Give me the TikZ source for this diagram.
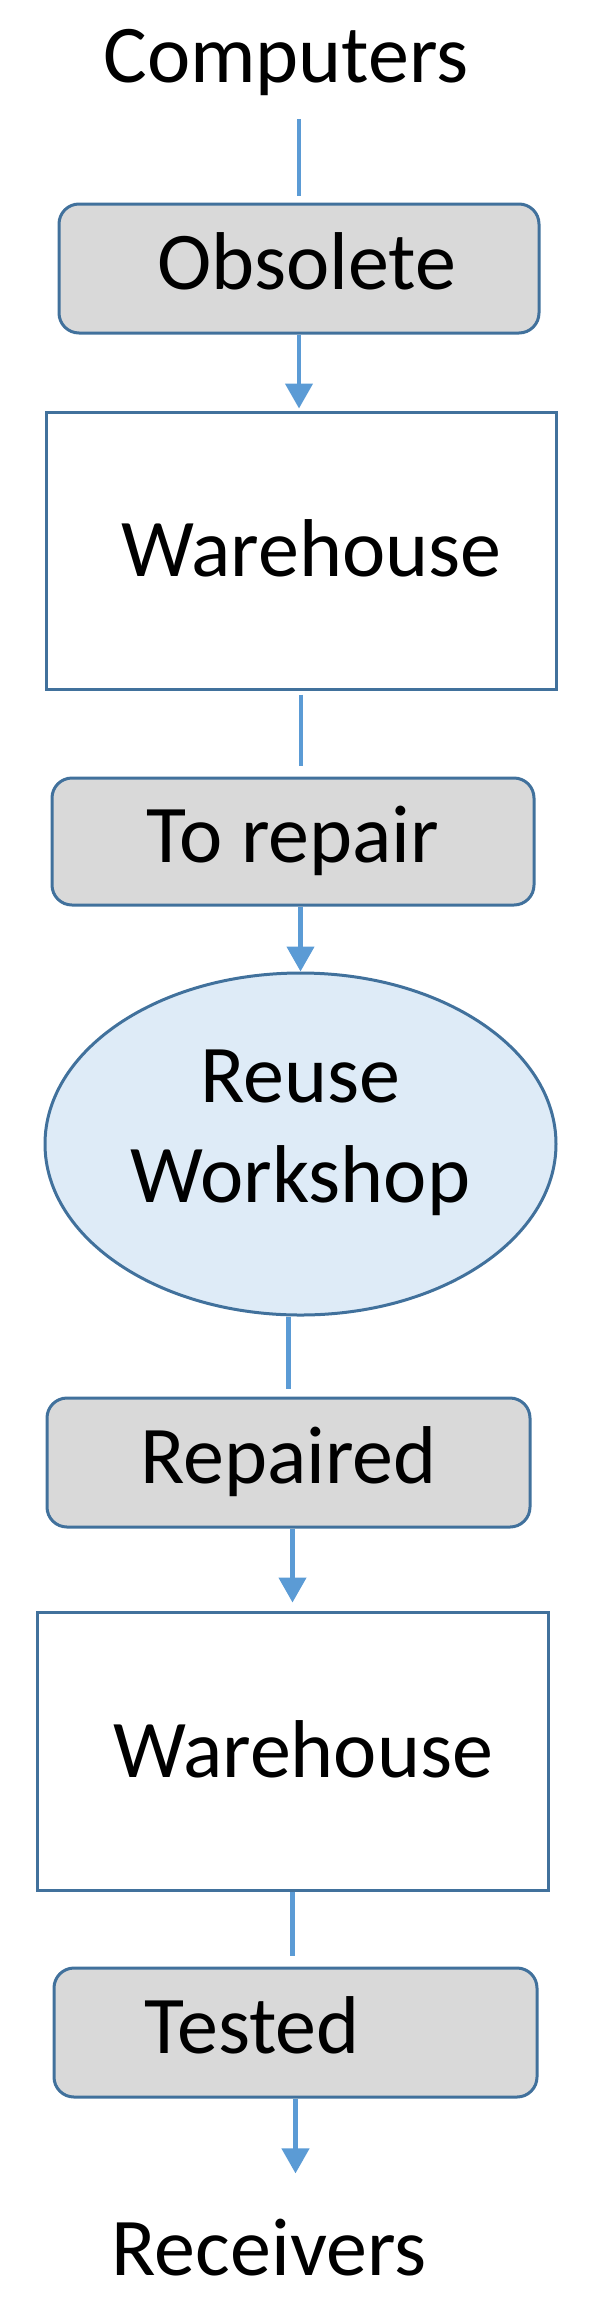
\documentclass[tikz,border=0pt]{standalone}
\usepackage{fontspec}
\setmainfont{Carlito}
\usetikzlibrary{arrows.meta,shapes.geometric}

\definecolor{pfeilblau}{HTML}{5B9BD5}
\definecolor{randblau}{HTML}{41719C}
\definecolor{kistengrau}{HTML}{D9D9D9}
\definecolor{werkblau}{HTML}{DEEBF7}

\begin{document}
\begin{tikzpicture}[x=1pt,y=-1pt,
    schrift/.style={font=\fontsize{82}{100}\selectfont},
    wort/.style={schrift,inner sep=0pt},
    etikett/.style={schrift,draw=randblau,line width=3pt,fill=kistengrau,rounded corners=20pt,
        inner sep=0pt,text height=58pt,text depth=17pt},
    lager/.style={schrift,draw=randblau,line width=3pt,fill=white,
        inner sep=0pt,text height=58pt,text depth=6pt},
    werk/.style={schrift,ellipse,draw=randblau,line width=3pt,fill=werkblau,align=center,
        inner sep=0pt,text height=130pt,text depth=14pt},
    strich/.style={draw=pfeilblau,line width=4.5pt},
    pfeil/.style={strich,-{Triangle[width=27pt,length=25pt]}}]
    \useasboundingbox (0,0) rectangle (595,2310);
    % Texte und Kisten:
    \node[wort,anchor=base] (computers) at (286,82) {Computers}; % oben
    \node[etikett,minimum width=480pt,minimum height=129pt] (obsolete) at (299,268.5) {\hspace*{15pt}Obsolete};
    \node[lager,minimum width=510pt,minimum height=277pt] (store1) at (301,550.5) {\hspace*{21pt}Warehouse}; % erstes Lager
    \node[etikett,minimum width=482pt,minimum height=127pt] (torepair) at (293,841.5) {To repair};
    \node[werk,minimum width=511pt,minimum height=342pt] (shop) at (300.5,1144) {Reuse\\Workshop}; % Werkstatt
    \node[etikett,minimum width=483pt,minimum height=129pt] (repaired) at (288.5,1462.5) {Repaired};
    \node[lager,minimum width=511pt,minimum height=278pt] (store2) at (292.5,1751) {\hspace*{21pt}Warehouse}; % zweites Lager
    \node[etikett,minimum width=483pt,minimum height=129pt] (tested) at (295.5,2032.5) {Tested\hspace*{87pt}};
    \node[wort,anchor=base] (receivers) at (269,2275) {Receivers}; % unten
    % Verbindungen:
    \draw[strich,shorten <=24pt,shorten >=7pt] (obsolete.north |- computers.south) -- (obsolete.north);
    \draw[pfeil,shorten >=2pt] (obsolete.south) -- (obsolete.south |- store1.north);
    \draw[strich,shorten <=4pt,shorten >=11pt] (store1.south) -- (store1.south |- torepair.north);
    \draw[pfeil] (shop.north |- torepair.south) -- (shop.north);
    \draw[strich,shorten >=8pt] (repaired.north |- shop.south) -- (repaired.north);
    \draw[pfeil,shorten >=8pt] (store2.north |- repaired.south) -- (store2.north);
    \draw[strich,shorten >=11pt] (store2.south) -- (store2.south |- tested.north);
    \draw[pfeil,shorten >=45pt] (tested.south) -- (tested.south |- receivers.north);
\end{tikzpicture}
\end{document}
